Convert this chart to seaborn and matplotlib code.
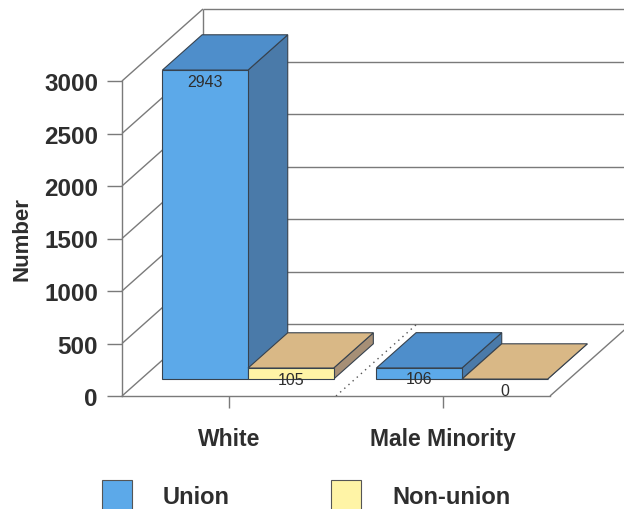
import matplotlib
matplotlib.use("Agg")
import matplotlib.pyplot as plt
import pandas as pd
import seaborn as sns
from matplotlib.patches import Polygon
from matplotlib.transforms import ScaledTranslation

# ---- data ----
groups = ["White", "Male Minority"]
statuses = ["Union", "Non-union"]
union_counts = [2943, 106]
nonunion_counts = [105, 0]
y_ticks = [0, 500, 1000, 1500, 2000, 2500, 3000]

df = pd.DataFrame({
    "Group": groups * 2,
    "Status": [statuses[0]] * len(groups) + [statuses[1]] * len(groups),
    "Number": union_counts + nonunion_counts,
})

# ---- styling ----
front_col = {"Union": "#5CA9E9", "Non-union": "#FFF4A6"}
top_col = {"Union": "#4E8ECB", "Non-union": "#D9B886"}
side_col = {"Union": "#4A7AA9", "Non-union": "#A68F76"}
edge = "#37424e"
wall_line = "#7a7a7a"
text_col = "#2e2e2e"

W, H, DPI = 624, 510, 100
sns.set_theme(style="white")
plt.rcParams["font.family"] = ["Liberation Sans", "DejaVu Sans"]

fig = plt.figure(figsize=(W / DPI, H / DPI), dpi=DPI)
fig.patch.set_facecolor("white")
# front plane of the box: x from -0.5 to 1.5, y from 0 to 3000
ax = fig.add_axes([122 / W, 1 - 397 / H, 428 / W, 315 / H])
ax.set_facecolor("none")

sns.barplot(data=df, x="Group", y="Number", hue="Status", order=groups,
            hue_order=statuses, palette=front_col, saturation=1, width=0.8,
            edgecolor=edge, linewidth=0.8, errorbar=None, ax=ax)
ax.set_xlim(-0.5, 1.5)
ax.set_ylim(0, 3000)

# depth (oblique projection) in pixels, converted to data units
p0 = ax.transData.transform((0, 0))
p1 = ax.transData.transform((1, 1))
px_x, px_y = p1[0] - p0[0], p1[1] - p0[1]
DEPTH_PX = (81, 72)
DX, DY = DEPTH_PX[0] / px_x, DEPTH_PX[1] / px_y
F_FRONT, F_BACK = 0.235, 0.725   # bar depth slot within the box

xl, xr = -0.5, 1.5
top = y_ticks[-1]


def line(xs, ys, **kw):
    kw.setdefault("color", wall_line)
    kw.setdefault("lw", 1.0)
    ax.plot(xs, ys, clip_on=False, zorder=1, solid_capstyle="butt", **kw)


# back wall gridlines and left wall diagonals
for v in y_ticks:
    line([xl + DX, xr + DX + 0.2], [v + DY, v + DY])
    line([xl, xl + DX], [v, v + DY])
line([xl + DX, xl + DX], [DY, top + DY])
line([xr, xr + DX + 0.2], [0, DY + 0.2 * DY / DX])
# dotted separator on the floor between groups
line([0.5, 0.5 + DX], [0, DY], ls=(0, (1, 3)), color="#555555")

# extruded bars, drawn left to right so later bars hide earlier side faces
bars = []
for status, container in zip(statuses, ax.containers):
    for rect in container.patches:
        bars.append((rect.get_x(), status, rect))
bars.sort(key=lambda b: b[0])

shift = ScaledTranslation(F_FRONT * DEPTH_PX[0] / DPI, F_FRONT * DEPTH_PX[1] / DPI,
                          fig.dpi_scale_trans)
for i, (_, status, rect) in enumerate(bars):
    x, w, h = rect.get_x(), rect.get_width(), rect.get_height()
    z = 3 + i * 0.1
    A = (x + F_FRONT * DX, h + F_FRONT * DY)
    B = (x + w + F_FRONT * DX, h + F_FRONT * DY)
    C = (x + w + F_BACK * DX, h + F_BACK * DY)
    D = (x + F_BACK * DX, h + F_BACK * DY)
    side = [B, C, (x + w + F_BACK * DX, F_BACK * DY), (x + w + F_FRONT * DX, F_FRONT * DY)]
    ax.add_patch(Polygon(side, closed=True, fc=side_col[status], ec=edge, lw=0.8,
                         clip_on=False, zorder=z))
    ax.add_patch(Polygon([A, B, C, D], closed=True, fc=top_col[status], ec=edge, lw=0.8,
                         clip_on=False, zorder=z + 0.01))
    rect.set_transform(ax.transData + shift)
    rect.set_clip_on(False)
    rect.set_zorder(z + 0.02)
    ax.annotate(f"{h:.0f}", xy=(x + w / 2, h),
                xytext=(F_FRONT * DEPTH_PX[0], F_FRONT * DEPTH_PX[1] - 11),
                textcoords="offset pixels", ha="center", va="center",
                fontsize=11.5, color=text_col, zorder=10, annotation_clip=False)

# axes frame = front edges of the box
for s in ("top", "right"):
    ax.spines[s].set_visible(False)
for s in ("left", "bottom"):
    ax.spines[s].set_color(wall_line)
    ax.spines[s].set_linewidth(1.0)
    ax.spines[s].set_zorder(2)

ax.set_yticks(y_ticks)
ax.tick_params(axis="y", direction="out", length=10.8, width=1.0, color=wall_line,
               pad=6.5, labelsize=17.5, labelcolor=text_col, left=True)
ax.tick_params(axis="x", direction="out", length=8.6, width=1.0, color=wall_line,
               pad=14, labelsize=16.5, labelcolor=text_col, bottom=True)
for lbl in ax.get_yticklabels() + ax.get_xticklabels():
    lbl.set_fontweight("bold")
ax.set_xlabel("")
ax.set_ylabel("Number", fontsize=16, fontweight="bold", color=text_col)
ax.yaxis.set_label_coords(-0.208, 0.5)

# legend along the bottom (squares run off the lower edge)
LEG_FS = 17
SQ_PX = 30
sq_em = SQ_PX * 72 / DPI / LEG_FS
handleheight = (sq_em - 0.245) / 0.65

old = ax.legend_
handles = list(old.legend_handles)
labels = [t.get_text() for t in old.get_texts()]
old.remove()
for hnd, st in zip(handles, statuses):
    hnd.set_facecolor(front_col[st])
    hnd.set_edgecolor("#555555")
    hnd.set_linewidth(0.8)
leg = fig.legend(handles, labels, loc="upper left",
                 bbox_to_anchor=(102 / W, 1 - 481 / H),
                 ncol=2, frameon=False, handlelength=sq_em, handleheight=handleheight,
                 handletextpad=31 * 72 / DPI / LEG_FS, columnspacing=101 * 72 / DPI / LEG_FS,
                 borderpad=0, borderaxespad=0,
                 prop={"size": LEG_FS, "weight": "bold"})
for t in leg.get_texts():
    t.set_color(text_col)

fig.savefig("out.png", dpi=DPI, facecolor="white")
